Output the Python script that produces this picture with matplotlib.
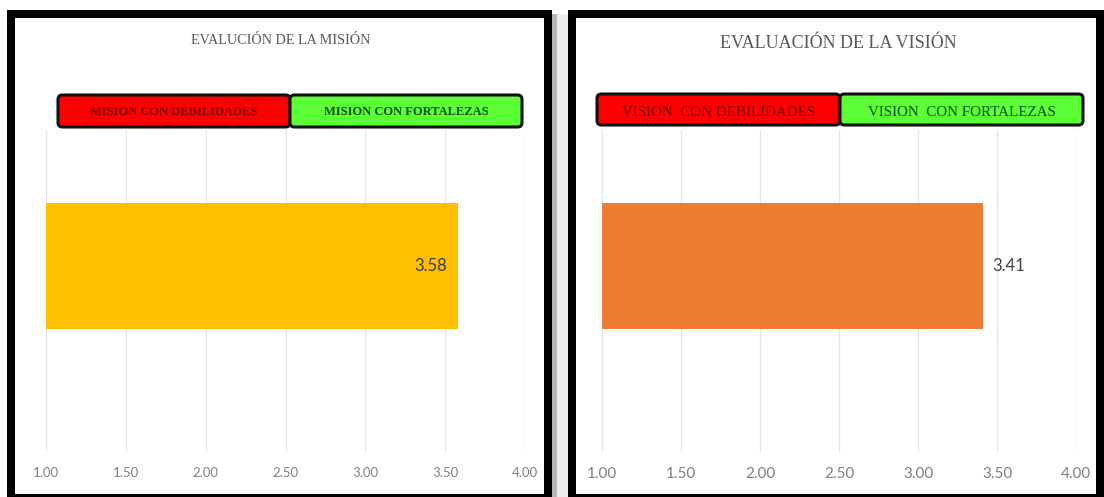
import matplotlib
matplotlib.use("Agg")
import matplotlib.pyplot as plt
from matplotlib.patches import Rectangle, FancyBboxPatch

# ---- data ----
titles = ["EVALUCIÓN DE LA MISIÓN", "EVALUACIÓN DE LA VISIÓN"]
values = [3.58, 3.41]
bar_colors = ["#FFC000", "#ED7D31"]
zone_labels_left = ["MISION CON DEBILIDADES", "MISION CON FORTALEZAS"]
zone_labels_right = ["VISION  CON DEBILIDADES", "VISION  CON FORTALEZAS"]
xticks = [1.00, 1.50, 2.00, 2.50, 3.00, 3.50, 4.00]
tick_labels = ["1.00", "1.50", "2.00", "2.50", "3.00", "3.50", "4.00"]
x_min, x_max = 1.0, 4.0

W, H = 1104, 497
fig = plt.figure(figsize=(W / 100, H / 100), dpi=100)
fig.patch.set_facecolor("white")


def fx(px):
    return px / W


def fy(py):
    return 1 - py / H


def rect_px(x0, y0, x1, y1, **kw):
    r = Rectangle((fx(x0), fy(y1)), fx(x1) - fx(x0), fy(y0) - fy(y1),
                  transform=fig.transFigure, **kw)
    fig.add_artist(r)
    return r


# panel frames
rect_px(552, 14, 557, 497, facecolor="#b8b8b8", edgecolor="none", zorder=0)
rect_px(557, 14, 568, 497, facecolor="#eeeeee", edgecolor="none", zorder=0)
rect_px(7, 10, 552, 497, facecolor="black", edgecolor="none", zorder=0)
rect_px(15, 18, 544, 494, facecolor="white", edgecolor="none", zorder=0)
rect_px(568, 10, 1104, 497, facecolor="black", edgecolor="none", zorder=0)
rect_px(576, 18, 1096, 494, facecolor="white", edgecolor="none", zorder=0)

panels = [
    dict(ax_px=(46, 525), title_xy=(281, 41), title_size=10.2,
         zone_px=[(58, 290), (290, 522)], zone_y=(95, 127), text_dy=1,
         zone_labels=zone_labels_left, zone_font=dict(size=9, weight="bold"),
         tick_size=9.5, inside=True),
    dict(ax_px=(602, 1076), title_xy=(838, 43), title_size=13,
         zone_px=[(597, 840), (840, 1083)], zone_y=(94, 125), text_dy=3,
         zone_labels=zone_labels_right, zone_font=dict(size=10.8, weight="normal"),
         tick_size=11, inside=False),
]

ax_top, ax_bot = 80, 452
grid_top = 130
zone_fill = ["#FF0000", "#5CFF35"]
zone_text = ["#7a0000", "#0a4a0a"]

for i, p in enumerate(panels):
    x0, x1 = p["ax_px"]
    ax = fig.add_axes([fx(x0), fy(ax_bot), fx(x1) - fx(x0), fy(ax_top) - fy(ax_bot)])
    ax.set_facecolor("none")
    ax.set_xlim(x_min, x_max)
    ax.set_ylim(-0.5, 0.5)
    ax.barh([0], [values[i] - x_min], left=x_min, height=0.339,
            color=bar_colors[i], zorder=3)
    ax.set_xticks(xticks)
    ax.set_xticklabels(tick_labels, family="Lato", fontsize=p["tick_size"], color="#7f7f7f")
    ax.tick_params(axis="x", length=0, pad=11)
    ax.set_yticks([])
    gmax = (ax_bot - grid_top) / (ax_bot - ax_top)
    for t in xticks:
        ax.axvline(t, ymin=0, ymax=gmax, color="#e6e6e6", linewidth=1, zorder=0)
    for s in ax.spines.values():
        s.set_visible(False)
    if p["inside"]:
        ax.annotate(f"{values[i]:.2f}", xy=(values[i], 0), xytext=(-8, 0),
                    textcoords="offset points", ha="right", va="center",
                    family="Lato", fontsize=12, color="#404040", zorder=4)
    else:
        ax.annotate(f"{values[i]:.2f}", xy=(values[i], 0), xytext=(7, 0),
                    textcoords="offset points", ha="left", va="center",
                    family="Lato", fontsize=12, color="#404040", zorder=4)

    # title
    fig.text(fx(p["title_xy"][0]), fy(p["title_xy"][1]), titles[i],
             ha="center", va="center", family="Liberation Serif",
             fontsize=p["title_size"], color="#595959")

    # zone boxes
    zy0, zy1 = p["zone_y"]
    for j, (bx0, bx1) in enumerate(p["zone_px"]):
        box = FancyBboxPatch((fx(bx0), fy(zy1)), fx(bx1) - fx(bx0), fy(zy0) - fy(zy1),
                             boxstyle="round,pad=0,rounding_size=0.004",
                             mutation_aspect=W / H,
                             transform=fig.transFigure, facecolor=zone_fill[j],
                             edgecolor="#111111", linewidth=2.2, zorder=5)
        fig.add_artist(box)
        fig.text(fx((bx0 + bx1) / 2), fy((zy0 + zy1) / 2 + p["text_dy"]), p["zone_labels"][j],
                 ha="center", va="center", family="Liberation Serif",
                 color=zone_text[j], zorder=6, **p["zone_font"])

fig.savefig("out.png", dpi=100)
